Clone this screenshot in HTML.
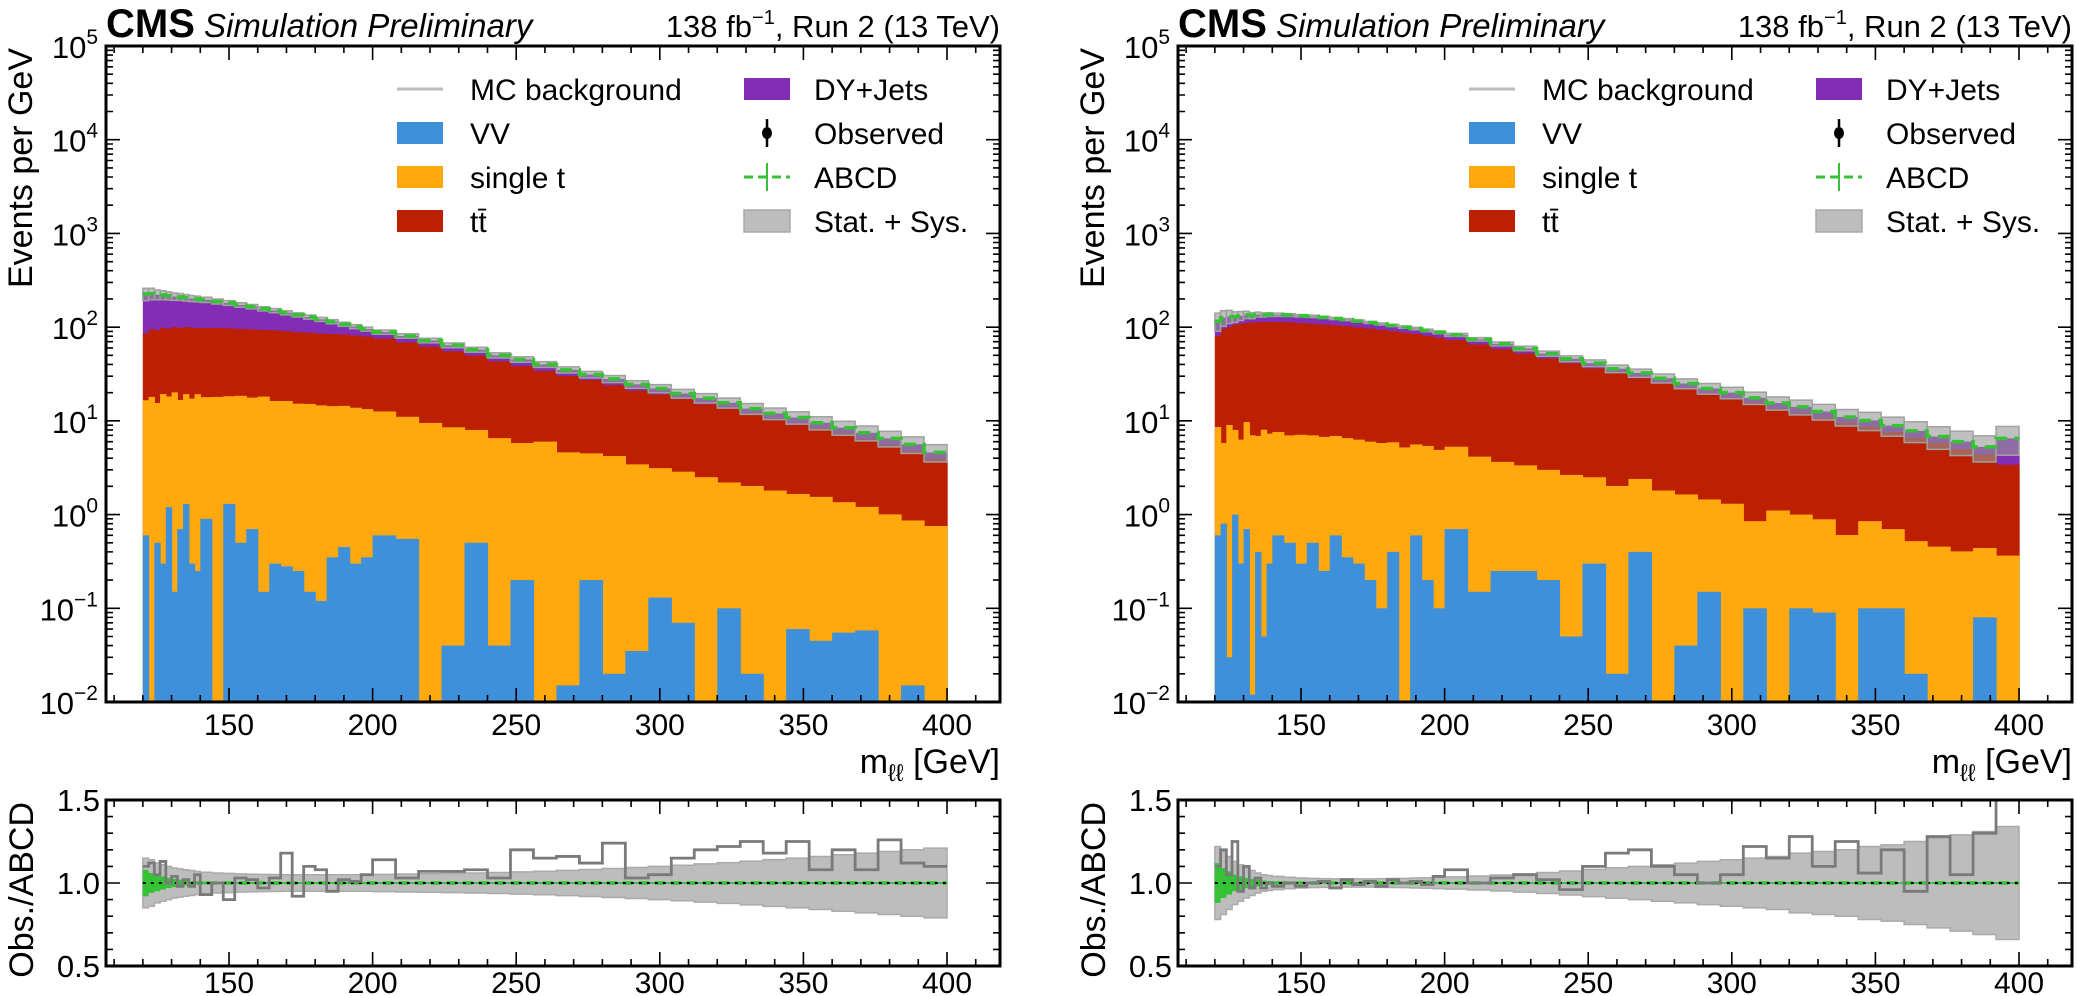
<!DOCTYPE html>
<html><head><meta charset="utf-8"><style>
html,body{margin:0;padding:0;background:#fff;}
svg{display:block;font-family:"Liberation Sans",Arial,sans-serif;}
</style></head><body>
<svg id="fig" width="2076" height="996" viewBox="0 0 2076 996" xmlns="http://www.w3.org/2000/svg"></svg>
<script>
const edges=[120,122,124,126,128,130,132,134,136,138,140,144,148,152,156,160,164,168,172,176,180,184,188,192,196,200,208,216,224,232,240,248,256,264,272,280,288,296,304,312,320,328,336,344,352,360,368,376,384,392,400];
const xTicks=[150,200,250,300,350,400];
const yExps=[-2,-1,0,1,2,3,4,5];
const rTicks=["0.5","1.0","1.5"];

const L_vv=[0.6,0.005,0.5,0.3,1.2,0.15,0.7,1.3,0.3,0.25,0.9,0.005,1.3,0.5,0.7,0.15,0.3,0.28,0.25,0.15,0.12,0.35,0.45,0.3,0.35,0.6,0.55,0.005,0.04,0.5,0.04,0.2,0.005,0.015,0.2,0.02,0.035,0.13,0.07,0.005,0.1,0.02,0.005,0.06,0.045,0.055,0.058,0.005,0.015,0.005];
const L_st=[16,18,15,19,17,20,16,18,17,19,17,18,17,18,17,18,16,16,15,15,14.5,14,14,13.5,13,12,10.5,9.5,8.5,7.5,6.5,5.6,6,4.6,4.3,4.2,3.4,3,2.8,2.5,2.1,2.0,1.8,1.6,1.5,1.3,1.15,1.0,0.85,0.75];
const L_tt=[69,77,77,79,78,80,81,81,81,78,80,80,79,77,77,75,76,74,73,72,70.5,70,69,67.5,66,63,57.5,52.5,46.5,41.5,36.5,32.4,28,25.4,22.7,19.8,17.6,16,14.2,12.5,11.4,10,8.7,7.7,6.8,6.0,5.15,4.5,3.85,3.15];
const L_dy=[140,133,130,122,120,112,113,106,104,103,98,90,84,77,71,64,58,52,47,41,36,30,24,20,16,13,12,10,9,8,7,7,6,5,4,4,3.5,3,2.5,2.5,2,1.5,1.5,1.5,1.2,1.1,1.1,1.0,0.9,0.7];
const L_ratio=[1.1,1.12,1.05,1.13,1.0,1.04,0.98,1.02,0.98,1.05,0.93,1.0,0.9,1.03,1.02,0.97,1.03,1.18,0.92,1.1,1.08,0.95,1.02,1.01,1.05,1.14,1.03,1.07,1.07,1.08,1.03,1.2,1.15,1.16,1.12,1.24,1.03,1.05,1.15,1.2,1.22,1.25,1.18,1.25,1.08,1.2,1.08,1.26,1.12,1.1];
const L_band=[0.15,0.14,0.12,0.11,0.10,0.09,0.085,0.08,0.075,0.07,0.065,0.06,0.058,0.055,0.053,0.052,0.051,0.05,0.05,0.05,0.05,0.05,0.05,0.05,0.05,0.052,0.054,0.056,0.058,0.06,0.063,0.067,0.071,0.076,0.081,0.087,0.093,0.1,0.107,0.115,0.123,0.132,0.141,0.15,0.16,0.17,0.18,0.19,0.2,0.21];
const L_stat=[0.08,0.06,0.05,0.04,0.03,0.025,0.02,0.015,0.012,0.01,0.008,0.007,0.006,0.006,0.006,0.006,0.006,0.006,0.006,0.006,0.006,0.006,0.006,0.006,0.006,0.005,0.005,0.005,0.005,0.005,0.005,0.005,0.005,0.005,0.005,0.005,0.005,0.005,0.005,0.005,0.005,0.005,0.005,0.005,0.005,0.005,0.005,0.005,0.005,0.005];

const R_vv=[0.6,0.8,0.03,1.0,0.3,0.7,0.012,0.4,0.05,0.3,0.6,0.5,0.3,0.5,0.25,0.6,0.35,0.3,0.2,0.1,0.4,0.005,0.6,0.2,0.1,0.7,0.15,0.25,0.25,0.2,0.05,0.3,0.02,0.4,0.005,0.04,0.15,0.005,0.1,0.005,0.1,0.09,0.005,0.1,0.1,0.02,0.005,0.005,0.08,0.005];
const R_st=[8,5,9,7,6,9,7,6.5,8,7,7,6.5,6.8,6.5,6.5,6.3,6.2,6,5.8,5.7,5.5,5.2,5,5.2,4.8,4.6,4.0,3.4,3.1,2.8,2.6,2.2,2.0,2.0,1.8,1.6,1.3,1.3,0.75,1.1,0.9,0.8,0.6,0.75,0.6,0.5,0.45,0.4,0.36,0.36];
const R_tt=[72,90,91,98,102,101,105,106.5,105,106,106,105.5,103.2,101.5,99.5,97.7,95.8,93,90.2,87.3,84.5,81.8,79,74.8,72.2,67.4,61,54.6,48.9,43.2,38.4,33.8,30,26,23.2,20.4,18.2,16.2,14.75,12.4,11.1,9.9,8.9,7.75,6.9,6.1,5.35,4.6,3.94,3.04];
const R_dy=[35,30,30,23,24,25,21,23,22,23,22,22,22,22,21,19,18,17,16,15,14,13,12,12,11,10,9,8,7,6,5,5,4,4,3.5,3,2.5,2.5,2,2,2,1.8,1.5,1.5,1.3,1.2,1.0,1.0,0.9,3.1];
const R_ratio=[1.1,1.2,1.05,1.25,0.95,1.1,0.97,1.03,0.97,1.0,0.98,1.0,0.98,1.0,1.01,0.97,1.02,0.99,1.01,0.98,1.02,1.0,1.01,0.99,1.04,1.08,1.0,1.03,1.05,1.02,0.96,1.1,1.18,1.2,1.1,1.05,1.0,1.05,1.22,1.15,1.28,1.1,1.25,1.06,1.2,0.95,1.28,1.05,1.3,1.5];
const R_band=[0.22,0.19,0.16,0.13,0.11,0.09,0.075,0.06,0.05,0.045,0.04,0.035,0.03,0.028,0.026,0.025,0.025,0.025,0.025,0.026,0.027,0.028,0.03,0.032,0.034,0.037,0.042,0.048,0.055,0.063,0.072,0.082,0.092,0.1,0.11,0.12,0.13,0.14,0.15,0.16,0.18,0.19,0.2,0.22,0.23,0.25,0.27,0.29,0.31,0.34];
const R_stat=[0.12,0.09,0.07,0.05,0.04,0.03,0.025,0.02,0.015,0.012,0.01,0.008,0.007,0.006,0.006,0.006,0.006,0.006,0.006,0.006,0.006,0.006,0.006,0.006,0.006,0.005,0.005,0.005,0.005,0.005,0.005,0.005,0.005,0.005,0.005,0.005,0.005,0.005,0.005,0.005,0.005,0.005,0.005,0.005,0.005,0.005,0.005,0.005,0.005,0.005];

const NS="http://www.w3.org/2000/svg";
const svg=document.getElementById('fig');
function mk(tag,attrs,parent){const e=document.createElementNS(NS,tag);for(const k in attrs)e.setAttribute(k,attrs[k]);(parent||svg).appendChild(e);return e;}

const C={vv:"#3f90da",st:"#ffa90e",tt:"#bd1f01",dy:"#832db6",green:"#35c335"};

function panel(ox,name,vv,st,tt,dy,ratio,band,stat){
  const g=mk('g',{});
  
  
  const x0=106+ox,x1=1000+ox,y0=46,y1=702,ry0=800,ry1=966;
  const xmin=107.17,xmax=418.45;
  const X=v=>x0+(v-xmin)*(x1-x0)/(xmax-xmin);
  const Y=v=>{const l=Math.log10(Math.max(v,1e-3));return Math.min(y1,y0+(5-l)*(y1-y0)/7);};
  const RY=v=>Math.max(ry0,Math.min(ry1,ry1-(v-0.5)*(ry1-ry0)));
  const n=edges.length-1;
  // stacks
  const clip=mk('clipPath',{id:'c'+name},g);mk('rect',{x:x0,y:y0,width:x1-x0,height:y1-y0},clip);
  const cg=mk('g',{'clip-path':'url(#c'+name+')'},g);
  const layers=[["dy",C.dy,[vv,st,tt,dy]],["tt",C.tt,[vv,st,tt]],["st",C.st,[vv,st]],["vv",C.vv,[vv]]];
  for(const [nm,col,arrs] of layers){
    for(let i=0;i<n;i++){
      let s=0;for(const a of arrs)s+=a[i];
      const yt=Y(s);
      const r=mk('rect',{x:X(edges[i]),y:yt,width:X(edges[i+1])-X(edges[i])+0.6,height:y1-yt,fill:col},cg);
      
      
    }
  }
  // uncertainty band + ABCD line
  let dpath="";
  for(let i=0;i<n;i++){
    const T=vv[i]+st[i]+tt[i]+dy[i];
    const b=mk('rect',{x:X(edges[i]),y:Y(T*(1+band[i])),width:X(edges[i+1])-X(edges[i]),height:Y(T*(1-band[i]))-Y(T*(1+band[i])),fill:"rgba(150,150,150,0.6)",stroke:"#a0a0a0","stroke-width":1.5},cg);
    
    
    dpath+=(i?"L":"M")+X(edges[i])+","+Y(T)+"L"+X(edges[i+1])+","+Y(T);
  }
  const ab=mk('path',{d:dpath,fill:"none",stroke:C.green,"stroke-width":3.5,"stroke-dasharray":"12,7"},cg);
  
  
  // main frame & ticks
  const fr=mk('rect',{x:x0,y:y0,width:x1-x0,height:y1-y0,fill:"none",stroke:"#000","stroke-width":3},g);
  
  
  let tp="";
  for(let v=110;v<=410;v+=10){const x=X(v);const L=(v%50==0)?14:7;tp+=`M${x},${y1}v${-L}M${x},${y0}v${L}`;}
  for(const e of yExps){const y=Y(Math.pow(10,e));tp+=`M${x0},${y}h14M${x1},${y}h-14`;
    if(e<5)for(let k=2;k<10;k++){const yy=Y(k*Math.pow(10,e));tp+=`M${x0},${yy}h7M${x1},${yy}h-7`;}}
  for(let v=110;v<=410;v+=10){const x=X(v);const L=(v%50==0)?14:7;tp+=`M${x},${ry1}v${-L}M${x},${ry0}v${L}`;}
  for(let k=0;k<=10;k++){const y=RY(0.5+k*0.1);const L=(k%5==0)?14:7;tp+=`M${x0},${y}h${L}M${x1},${y}h${-L}`;}
  mk('path',{d:tp,stroke:"#000","stroke-width":1.6,fill:"none"},g);
  for(const e of yExps){
    const t=mk('text',{x:x0-8,y:Y(Math.pow(10,e))+12,"font-size":31,"text-anchor":"end"},g);
    
    
    t.innerHTML=`10<tspan font-size="21" dy="-14">${e<0?'\u2212'+(-e):e}</tspan>`;
  }
  for(const v of xTicks){
    const t=mk('text',{x:X(v),y:735,"font-size":30,"text-anchor":"middle"},g);t.textContent=v;
    
    
    const t2=mk('text',{x:X(v),y:993,"font-size":30,"text-anchor":"middle"},g);t2.textContent=v;
    
    
  }
  // titles
  const xl=mk('text',{x:x1,y:773,"font-size":34,"text-anchor":"end"},g);
  xl.innerHTML='m<tspan font-size="24" dy="8">ℓℓ</tspan><tspan dy="-8"> [GeV]</tspan>';
  
  
  const yl=mk('text',{transform:`translate(${ox+32},${y0+2}) rotate(-90)`,"font-size":34,"text-anchor":"end"},g);
  yl.textContent="Events per GeV";
  
  
  const cms=mk('text',{x:x0,y:37,"font-size":40,"font-weight":"bold"},g);
  cms.innerHTML='CMS<tspan font-weight="normal" font-style="italic" font-size="33"> Simulation Preliminary</tspan>';
  
  
  const lumi=mk('text',{x:x1,y:37,"font-size":31,"text-anchor":"end"},g);
  lumi.innerHTML='138 fb<tspan font-size="20" dy="-13">\u22121</tspan><tspan dy="13">, Run 2 (13 TeV)</tspan>';
  
  
  // legend
  const lg=mk('g',{},g);
  
  
  const rows=[89,133,177,221];
  const c1=397+ox,c2=744+ox;
  mk('line',{x1:c1,x2:c1+46,y1:rows[0],y2:rows[0],stroke:"#bbb","stroke-width":3},lg);
  mk('rect',{x:c1,y:rows[1]-11,width:46,height:22,fill:C.vv},lg);
  mk('rect',{x:c1,y:rows[2]-11,width:46,height:22,fill:C.st},lg);
  mk('rect',{x:c1,y:rows[3]-11,width:46,height:22,fill:C.tt},lg);
  mk('rect',{x:c2,y:rows[0]-11,width:46,height:22,fill:C.dy},lg);
  mk('line',{x1:c2+23,x2:c2+23,y1:rows[1]-14,y2:rows[1]+14,stroke:"#000","stroke-width":2.5},lg);
  mk('ellipse',{cx:c2+23,cy:rows[1],rx:5,ry:6,fill:"#000"},lg);
  mk('line',{x1:c2,x2:c2+46,y1:rows[2],y2:rows[2],stroke:C.green,"stroke-width":3,"stroke-dasharray":"9,5"},lg);
  mk('line',{x1:c2+23,x2:c2+23,y1:rows[2]-14,y2:rows[2]+14,stroke:C.green,"stroke-width":2},lg);
  mk('rect',{x:c2,y:rows[3]-11,width:46,height:22,fill:"#bdbdbd",stroke:"#a8a8a8","stroke-width":1.5},lg);
  const labs=[[c1+73,rows[0],"MC background"],[c1+73,rows[1],"VV"],[c1+73,rows[2],"single t"],[c1+73,rows[3],"t<tspan>t\u0304</tspan>"],[c2+70,rows[0],"DY+Jets"],[c2+70,rows[1],"Observed"],[c2+70,rows[2],"ABCD"],[c2+70,rows[3],"Stat. + Sys."]];
  for(const [x,y,s] of labs){
    const t=mk('text',{x:x,y:y+11,"font-size":30},lg);t.innerHTML=s;
    
    
  }
  // ratio panel
  const rc=mk('clipPath',{id:'r'+name},g);mk('rect',{x:x0,y:ry0,width:x1-x0,height:ry1-ry0},rc);
  const rg=mk('g',{'clip-path':'url(#r'+name+')'},g);
  let bp="M"+X(edges[0])+","+RY(1+band[0]);
  for(let i=0;i<n;i++)bp+="L"+X(edges[i])+","+RY(1+band[i])+"L"+X(edges[i+1])+","+RY(1+band[i]);
  for(let i=n-1;i>=0;i--)bp+="L"+X(edges[i+1])+","+RY(1-band[i])+"L"+X(edges[i])+","+RY(1-band[i]);
  const rb=mk('path',{d:bp+"Z",fill:"#bdbdbd",stroke:"#aaa","stroke-width":1.5},rg);
  
  
  let sp="M"+X(edges[0])+","+RY(1+stat[0]);
  for(let i=0;i<n;i++)sp+="L"+X(edges[i])+","+RY(1+stat[i])+"L"+X(edges[i+1])+","+RY(1+stat[i]);
  for(let i=n-1;i>=0;i--)sp+="L"+X(edges[i+1])+","+RY(1-stat[i])+"L"+X(edges[i])+","+RY(1-stat[i]);
  const sb=mk('path',{d:sp+"Z",fill:C.green},rg);
  
  
  const gl=mk('line',{x1:X(edges[0]),x2:X(edges[n]),y1:RY(1),y2:RY(1),stroke:C.green,"stroke-width":3.5,"stroke-dasharray":"10,6"},rg);
  
  
  mk('line',{x1:X(edges[0]),x2:X(edges[n]),y1:RY(1),y2:RY(1),stroke:"#000","stroke-width":2,"stroke-dasharray":"3,5"},rg);
  let op="";
  for(let i=0;i<n;i++)op+=(i?"L":"M")+X(edges[i])+","+RY(ratio[i])+"L"+X(edges[i+1])+","+RY(ratio[i]);
  const ol=mk('path',{d:op,fill:"none",stroke:"#7a7a7a","stroke-width":2.8},rg);
  
  
  const rf=mk('rect',{x:x0,y:ry0,width:x1-x0,height:ry1-ry0,fill:"none",stroke:"#000","stroke-width":3},g);
  
  
  rTicks.forEach((s,k)=>{
    const t=mk('text',{x:x0-6,y:RY(0.5+0.5*k)+11,"font-size":31,"text-anchor":"end"},g);t.textContent=s;
    
    
  });
  const ryl=mk('text',{transform:`translate(${ox+33},${ry0+2}) rotate(-90)`,"font-size":34,"text-anchor":"end"},g);
  ryl.textContent="Obs./ABCD";
  
  
}
panel(0,"left-panel",L_vv,L_st,L_tt,L_dy,L_ratio,L_band,L_stat);
panel(1072,"right-panel",R_vv,R_st,R_tt,R_dy,R_ratio,R_band,R_stat);
</script>
</body></html>
